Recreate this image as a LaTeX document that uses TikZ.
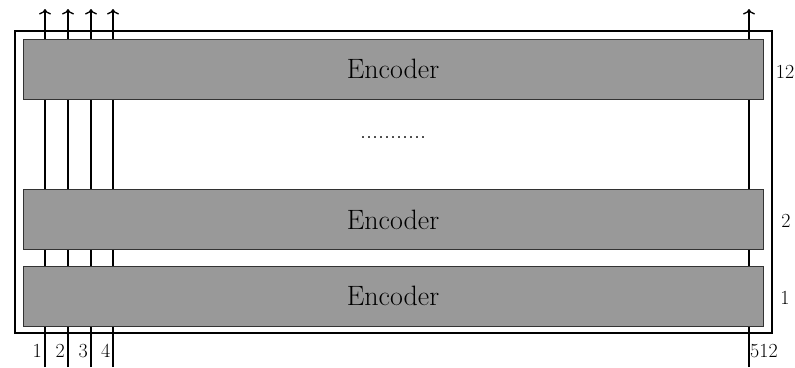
\documentclass[tikz,border=0pt]{standalone}
\usepackage{fontspec}
\setmainfont{Latin Modern Roman}
\usetikzlibrary{arrows.meta}
\begin{document}
\begin{tikzpicture}[x=1pt,y=-1pt,
  enc/.style={draw=black!80,line width=1pt,fill=black!40,minimum width=740pt,minimum height=60pt,inner sep=0pt,font=\fontsize{28}{32}\selectfont},
  lbl/.style={font=\fontsize{20}{24}\selectfont,inner sep=0pt},
  wire/.style={line width=1.6pt,-{To[length=5.5pt,width=12pt,line width=1.3pt]}}]
\useasboundingbox (0,0) rectangle (795,367);
\node[draw,line width=2pt,minimum width=757pt,minimum height=302pt,inner sep=0pt] (frame) at (393.5,182) {};
% wires
\foreach \x/\n in {45/a,68/b,91/c,113/d,749/e}{
  \coordinate (s\n) at (\x,367);
  \coordinate (t\n) at (\x,9);
  \draw[wire] (s\n) -- (t\n);
}
\node[enc] (e12) at (393,69) {Encoder};
\node[enc] (e2) at (393,219.5) {Encoder};
\node[enc] (e1) at (393,296) {Encoder};
\node[font=\fontsize{24}{28}\selectfont,anchor=base,inner sep=0pt] (dots) at (393,138) {...........};
\node[lbl,anchor=base] (r12) at (785,78) {12};
\node[lbl,anchor=base] (r2) at (786,227) {2};
\node[lbl,anchor=base] (r1) at (785,304) {1};
\node[lbl,anchor=base east] (l1) at (42,357) {1};
\node[lbl,anchor=base east] (l2) at (65,357) {2};
\node[lbl,anchor=base east] (l3) at (88,357) {3};
\node[lbl,anchor=base east] (l4) at (110.5,357) {4};
\node[lbl,anchor=base] (l512) at (764,357) {512};
\end{tikzpicture}
\end{document}
